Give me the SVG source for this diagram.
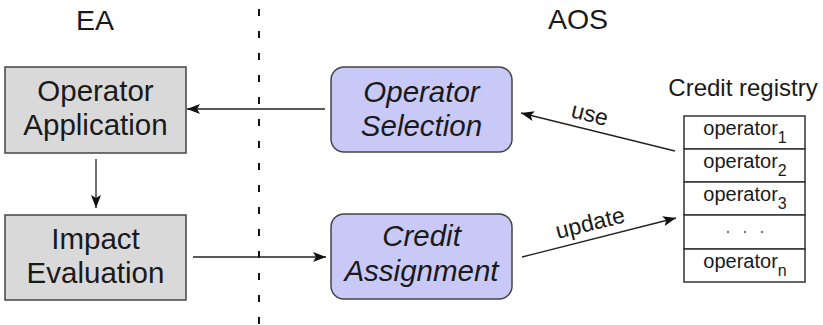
<svg xmlns="http://www.w3.org/2000/svg" width="823" height="325" viewBox="0 0 823 325">
  <style>
    text { font-family: "Liberation Sans", Arial, sans-serif; fill: #1a1a1a; }
    .title { font-size: 28.5px; text-anchor: middle; }
    .lbl { font-size: 29.5px; text-anchor: middle; }
    .ital { font-style: italic; }
    .edge { font-size: 23px; text-anchor: middle; }
    .reg { font-size: 20px; text-anchor: middle; }
    .sub { font-size: 16px; }
    .ea { fill: #d9d9d9; stroke: #444; stroke-width: 1.5; }
    .aos { fill: #c9c9f8; stroke: #444; stroke-width: 1.5; }
    .cell { fill: #fff; stroke: #333; stroke-width: 1.5; }
    .conn { stroke: #222; stroke-width: 1.3; fill: none; marker-end: url(#head); }
    .divider { stroke: #111; stroke-width: 2; stroke-dasharray: 7 15; }
  </style>
  <defs>
    <marker id="head" markerWidth="14" markerHeight="10" refX="13" refY="5" orient="auto" markerUnits="userSpaceOnUse">
      <path d="M0,0 L13,5 L0,10 L3,5 Z" fill="#111"/>
    </marker>
  </defs>

  <rect width="823" height="325" fill="#fff"/>

  <!-- column titles and divider -->
  <text class="title" x="95" y="30">EA</text>
  <text class="title" x="578" y="29">AOS</text>
  <line class="divider" x1="259" y1="9" x2="259" y2="325"/>

  <g id="operator-application">
    <rect class="ea" x="5" y="67" width="181" height="86"/>
    <text class="lbl" x="95.5" y="101">Operator</text>
    <text class="lbl" x="95.5" y="135">Application</text>
  </g>

  <g id="impact-evaluation">
    <rect class="ea" x="5" y="215" width="181" height="85"/>
    <text class="lbl" x="95.5" y="249">Impact</text>
    <text class="lbl" x="95.5" y="283">Evaluation</text>
  </g>

  <g id="operator-selection">
    <rect class="aos" x="331" y="67" width="181" height="85" rx="13"/>
    <text class="lbl ital" x="421.5" y="102">Operator</text>
    <text class="lbl ital" x="421.5" y="136">Selection</text>
  </g>

  <g id="credit-assignment">
    <rect class="aos" x="331" y="214" width="181" height="85" rx="13"/>
    <text class="lbl ital" x="421.5" y="246">Credit</text>
    <text class="lbl ital" x="421.5" y="281">Assignment</text>
  </g>

  <g id="credit-registry">
    <text x="743" y="96" style="font-size:24px" text-anchor="middle">Credit registry</text>
    <rect class="cell" x="684" y="116" width="121" height="33"/>
    <rect class="cell" x="684" y="149" width="121" height="33"/>
    <rect class="cell" x="684" y="182" width="121" height="33"/>
    <rect class="cell" x="684" y="215" width="121" height="34"/>
    <rect class="cell" x="684" y="249" width="121" height="33"/>
    <text class="reg" x="745" y="135">operator<tspan class="sub" dy="8">1</tspan></text>
    <text class="reg" x="745" y="168">operator<tspan class="sub" dy="8">2</tspan></text>
    <text class="reg" x="745" y="201">operator<tspan class="sub" dy="8">3</tspan></text>
    <g fill="#777">
      <circle cx="728" cy="232" r="1.2"/>
      <circle cx="745" cy="232" r="1.2"/>
      <circle cx="762" cy="232" r="1.2"/>
    </g>
    <text class="reg" x="745" y="268">operator<tspan class="sub" dy="8">n</tspan></text>
  </g>

  <g id="connectors">
    <line class="conn" x1="325" y1="109" x2="187" y2="109"/>
    <line class="conn" x1="96" y1="159" x2="96" y2="208"/>
    <line class="conn" x1="193" y1="257" x2="326" y2="257"/>
    <line class="conn" x1="675" y1="151" x2="521" y2="113"/>
    <line class="conn" x1="522" y1="257" x2="676" y2="218"/>
    <text class="edge" x="588" y="121.5" transform="rotate(14 588 121.5)">use</text>
    <text class="edge" x="592" y="230.5" transform="rotate(-14 592 230.5)">update</text>
  </g>
</svg>
